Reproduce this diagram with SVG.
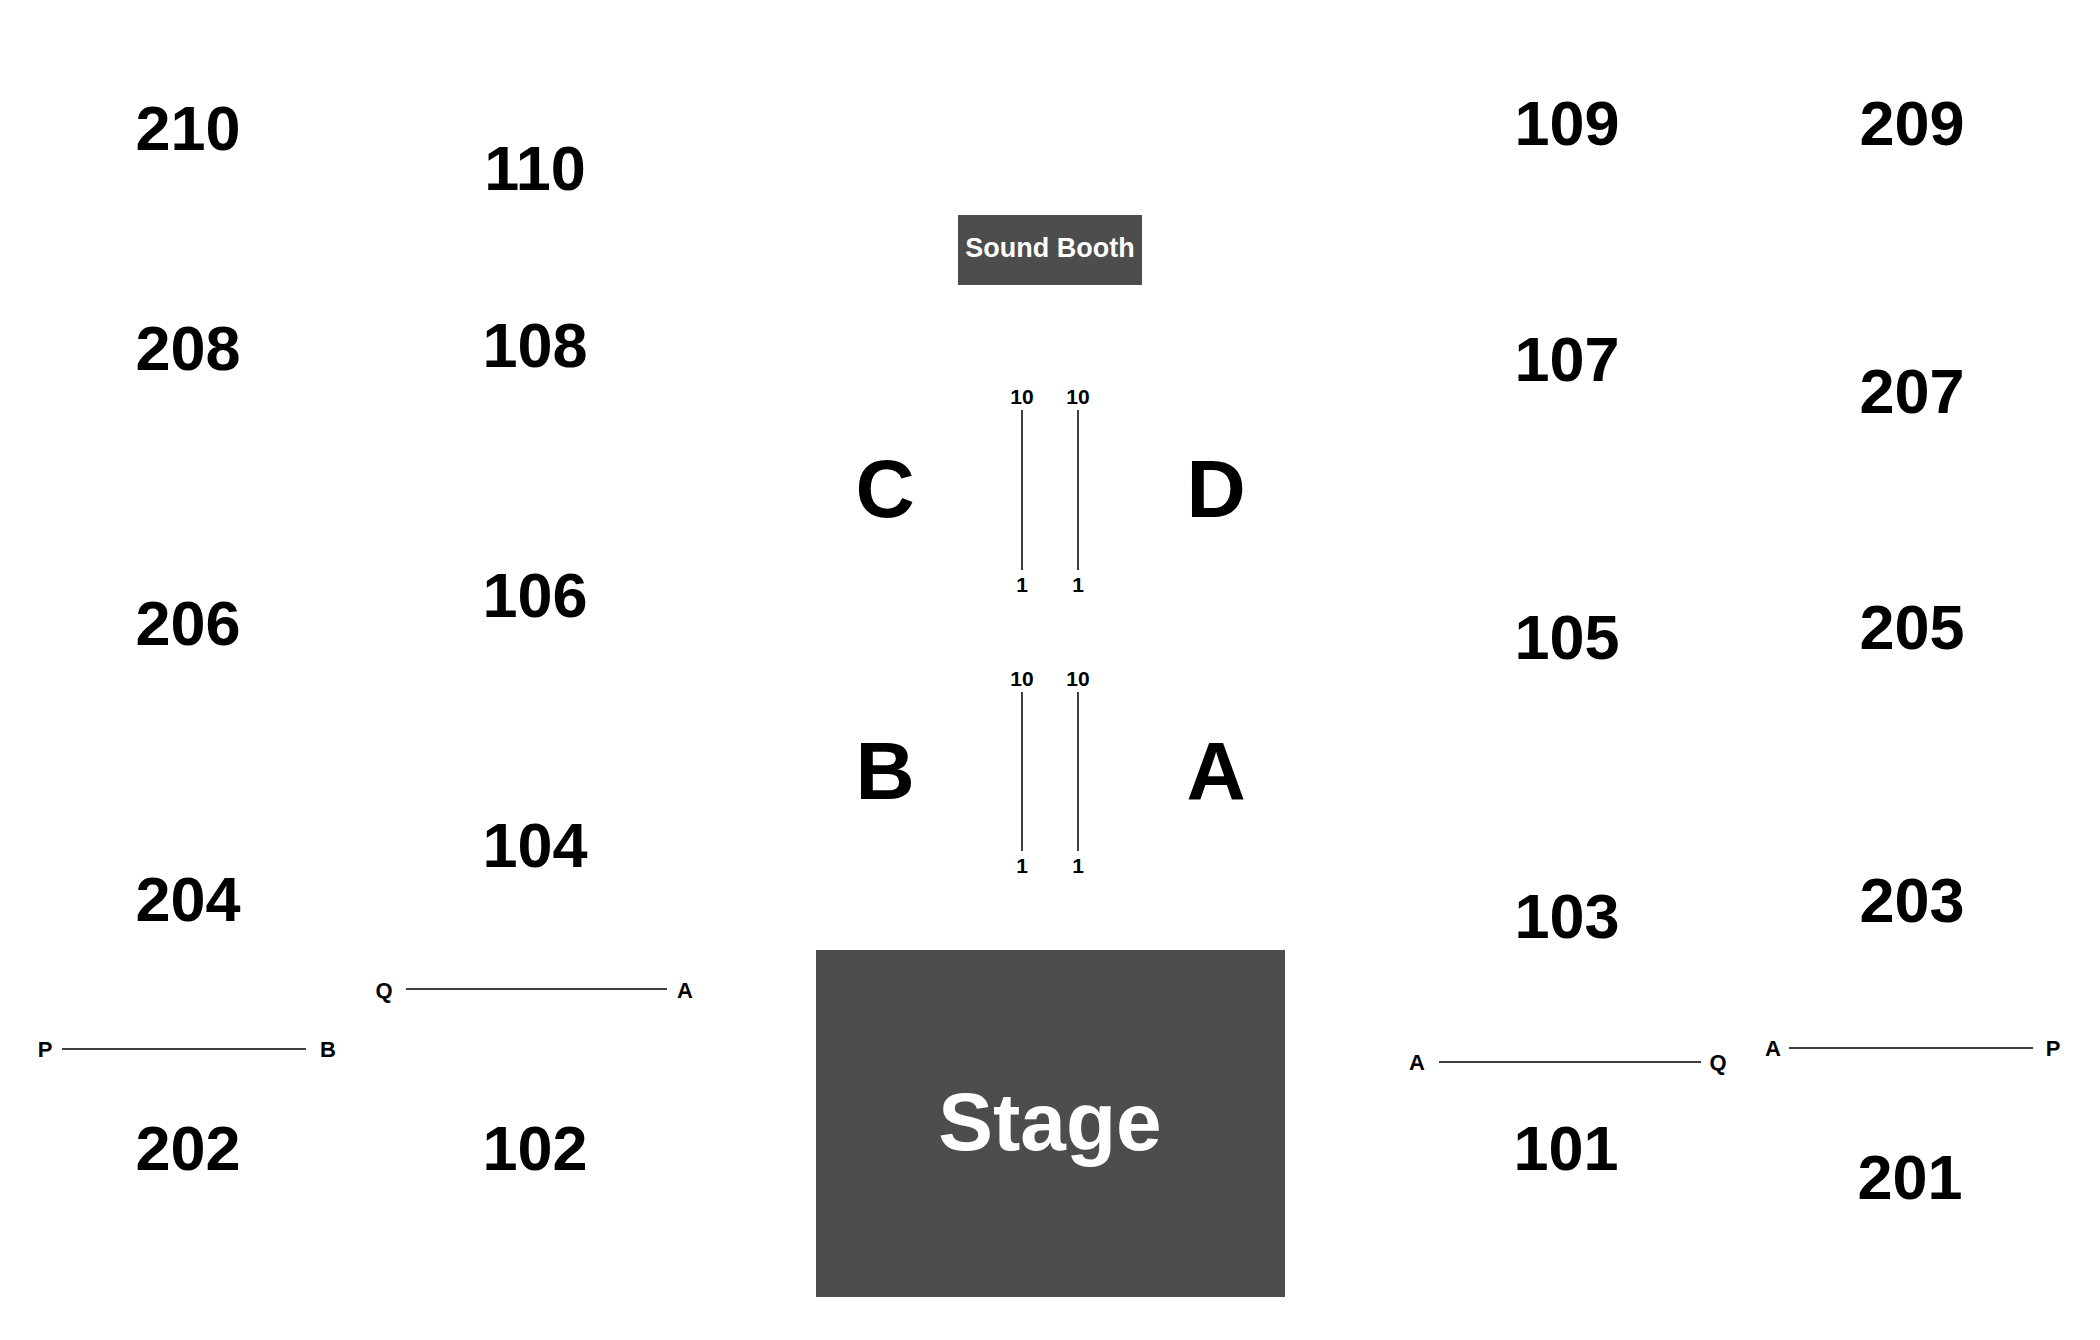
<svg xmlns="http://www.w3.org/2000/svg" width="2100" height="1340" viewBox="0 0 2100 1340">
<style>
.sec{font-family:"Liberation Sans",Arial,sans-serif;font-weight:bold;font-size:63px;fill:#000;text-anchor:middle}
.let{font-family:"Liberation Sans",Arial,sans-serif;font-weight:bold;font-size:82px;fill:#000;text-anchor:middle}
.row{font-family:"Liberation Sans",Arial,sans-serif;font-weight:bold;font-size:21px;fill:#000;text-anchor:middle}
.lbl{font-family:"Liberation Sans",Arial,sans-serif;font-weight:bold;font-size:22px;fill:#000;text-anchor:middle}
.box{fill:#4d4d4d}
.wt{font-family:"Liberation Sans",Arial,sans-serif;font-weight:bold;fill:#fff;text-anchor:middle}
.ln{stroke:#000;stroke-width:1.5;fill:none}
</style>
<rect width="2100" height="1340" fill="#fff"/>
<g id="s210"><text class="sec" x="188" y="150">210</text></g>
<g id="s208"><text class="sec" x="188" y="370">208</text></g>
<g id="s206"><text class="sec" x="188" y="645">206</text></g>
<g id="s204"><text class="sec" x="188" y="921">204</text></g>
<g id="s202"><text class="sec" x="188" y="1170">202</text></g>
<g id="s110"><text class="sec" x="535" y="190">110</text></g>
<g id="s108"><text class="sec" x="535" y="367">108</text></g>
<g id="s106"><text class="sec" x="535" y="617">106</text></g>
<g id="s104"><text class="sec" x="535" y="867">104</text></g>
<g id="s102"><text class="sec" x="535" y="1170">102</text></g>
<g id="s109"><text class="sec" x="1567" y="145">109</text></g>
<g id="s107"><text class="sec" x="1567" y="381">107</text></g>
<g id="s105"><text class="sec" x="1567" y="659">105</text></g>
<g id="s103"><text class="sec" x="1567" y="938">103</text></g>
<g id="s101"><text class="sec" x="1566" y="1170">101</text></g>
<g id="s209"><text class="sec" x="1912" y="145">209</text></g>
<g id="s207"><text class="sec" x="1912" y="413">207</text></g>
<g id="s205"><text class="sec" x="1912" y="649">205</text></g>
<g id="s203"><text class="sec" x="1912" y="922">203</text></g>
<g id="s201"><text class="sec" x="1910" y="1199">201</text></g>
<g id="soundBooth"><rect class="box" x="958" y="215" width="184" height="70"/><text class="wt" x="1050" y="257" font-size="27">Sound Booth</text></g>
<g id="stage"><rect class="box" x="816" y="950" width="469" height="347"/><text class="wt" x="1050" y="1150" font-size="82">Stage</text></g>
<g id="secC"><text class="let" x="885" y="517">C</text></g>
<g id="secD"><text class="let" x="1216" y="517">D</text></g>
<g id="secB"><text class="let" x="885" y="799">B</text></g>
<g id="secA"><text class="let" x="1216" y="799">A</text></g>
<g id="rowLabels">
<text class="row" x="1022" y="404">10</text><text class="row" x="1078" y="404">10</text>
<text class="row" x="1022" y="592">1</text><text class="row" x="1078" y="592">1</text>
<text class="row" x="1022" y="686">10</text><text class="row" x="1078" y="686">10</text>
<text class="row" x="1022" y="873">1</text><text class="row" x="1078" y="873">1</text>
</g>
<g id="rowEndLabels">
<text class="lbl" x="384" y="998">Q</text><text class="lbl" x="685" y="998">A</text>
<text class="lbl" x="45" y="1057">P</text><text class="lbl" x="328" y="1057">B</text>
<text class="lbl" x="1417" y="1070">A</text><text class="lbl" x="1718" y="1070">Q</text>
<text class="lbl" x="1773" y="1056">A</text><text class="lbl" x="2053" y="1056">P</text>
</g>
<g id="connectors">
<line class="ln" x1="1022" y1="410" x2="1022" y2="570"/>
<line class="ln" x1="1078" y1="410" x2="1078" y2="570"/>
<line class="ln" x1="1022" y1="692" x2="1022" y2="851"/>
<line class="ln" x1="1078" y1="692" x2="1078" y2="851"/>
<line class="ln" x1="406" y1="989" x2="667" y2="989"/>
<line class="ln" x1="62" y1="1049" x2="306" y2="1049"/>
<line class="ln" x1="1439" y1="1062" x2="1701" y2="1062"/>
<line class="ln" x1="1789" y1="1048" x2="2033" y2="1048"/>
</g>
</svg>
